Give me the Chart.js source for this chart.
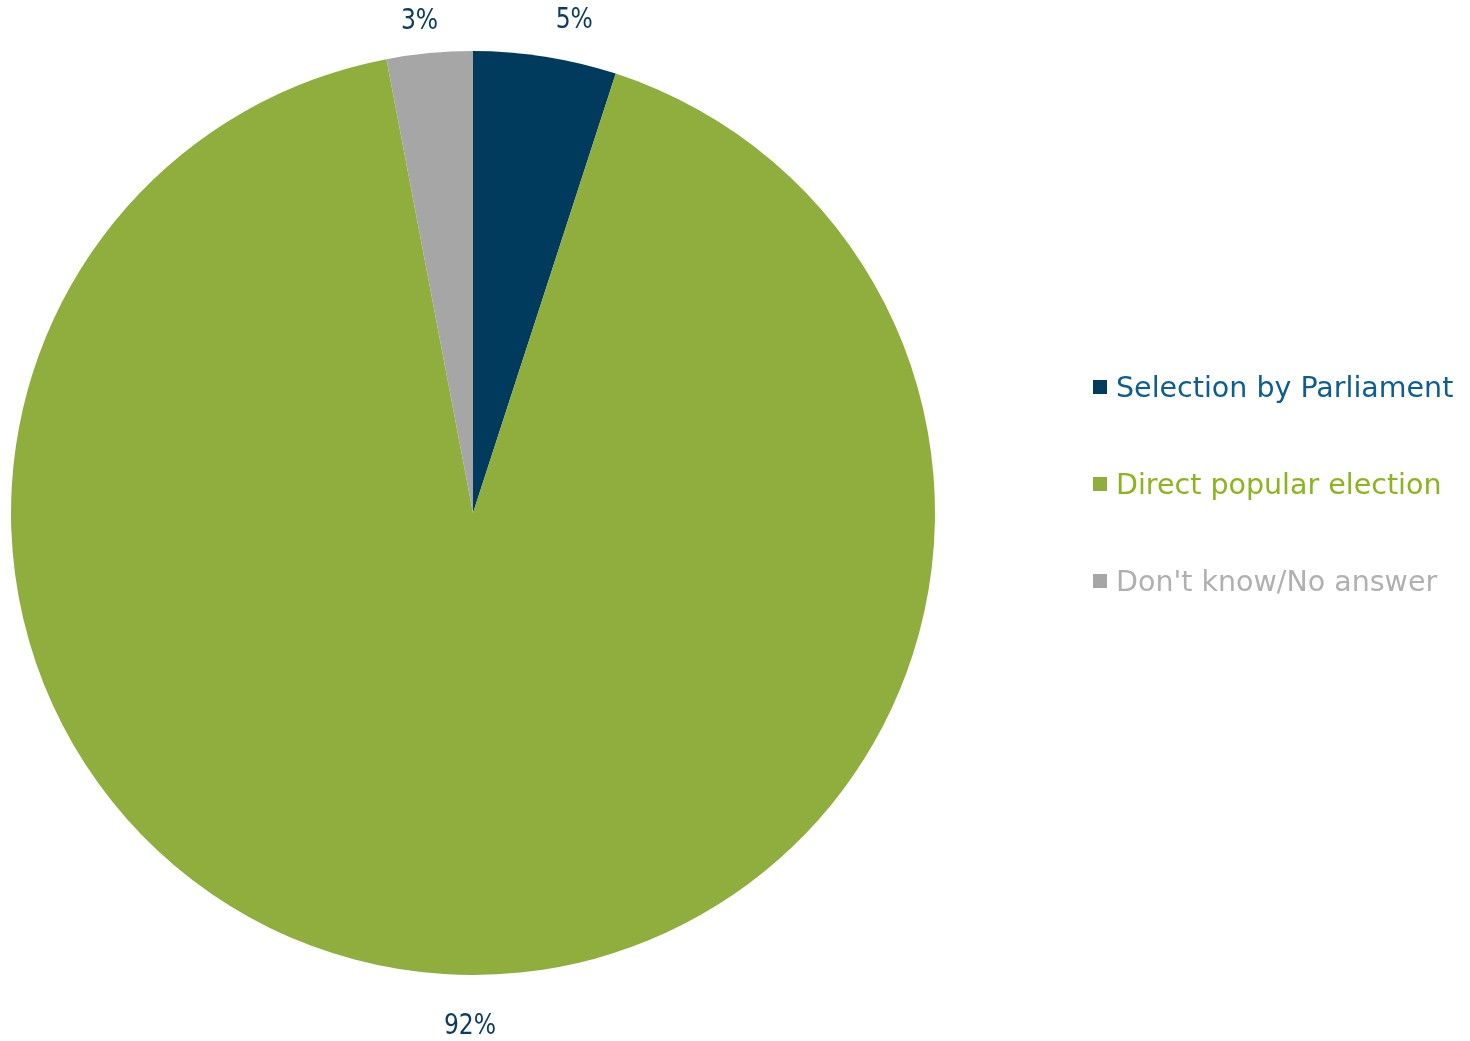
<!DOCTYPE html>
<html>
<head>
<meta charset="utf-8">
<script src="https://cdn.jsdelivr.net/npm/chart.js@4/dist/chart.umd.min.js"></script>
<style>
  html, body { margin: 0; padding: 0; background: #fff; }
  #wrap { position: relative; width: 1470px; height: 1041px; }
</style>
</head>
<body>
<div id="wrap"><canvas id="pieChart"></canvas></div>
<script>
const categories = ['Selection by Parliament', 'Direct popular election', "Don't know/No answer"];
const shares = [5, 92, 3];
const sliceColors = ['#003a5c', '#8fae3e', '#a6a6a6'];
const legendTextColors = ['#0d5e8e', '#8ab51f', '#b0b0b0'];

const LABEL_FONT = '29px "DejaVu Sans Condensed", "DejaVu Sans", sans-serif';
const LEGEND_FONT = '28.5px "DejaVu Sans", sans-serif';

// Percentage labels outside the pie, nudged like the original
const labelNudge = [[29, -36], [26, 52], [-10, -32]];

const outsideLabels = {
  id: 'outsideLabels',
  afterDraw(chart) {
    const c = chart.ctx;
    const meta = chart.getDatasetMeta(0);
    c.save();
    c.font = LABEL_FONT;
    c.fillStyle = '#0b3c5d';
    c.textAlign = 'center';
    c.textBaseline = 'middle';
    meta.data.forEach((arc, i) => {
      const mid = (arc.startAngle + arc.endAngle) / 2;
      const x = arc.x + Math.cos(mid) * arc.outerRadius + labelNudge[i][0];
      const y = arc.y + Math.sin(mid) * arc.outerRadius + labelNudge[i][1];
      c.save();
      c.translate(x, y);
      c.scale(0.9, 1);
      c.fillText(shares[i] + '%', 0, 0);
      c.restore();
    });

    // legend on the right
    const lx = 1093, ly = 387, gap = 97;
    c.font = LEGEND_FONT;
    c.textAlign = 'left';
    categories.forEach((name, i) => {
      const y = ly + i * gap;
      c.fillStyle = sliceColors[i];
      c.fillRect(lx, y - 7, 14, 14);
      c.fillStyle = legendTextColors[i];
      c.fillText(name, lx + 23, y + 3);
    });
    c.restore();
  }
};

new Chart(document.getElementById('pieChart'), {
  type: 'pie',
  data: {
    labels: categories,
    datasets: [{
      data: shares,
      backgroundColor: sliceColors,
      borderWidth: 0
    }]
  },
  options: {
    responsive: true,
    maintainAspectRatio: false,
    animation: false,
    layout: { padding: { left: 11, right: 535, top: 51, bottom: 66 } },
    plugins: {
      legend: { display: false },
      tooltip: { enabled: false }
    }
  },
  plugins: [outsideLabels]
});
</script>
</body>
</html>
